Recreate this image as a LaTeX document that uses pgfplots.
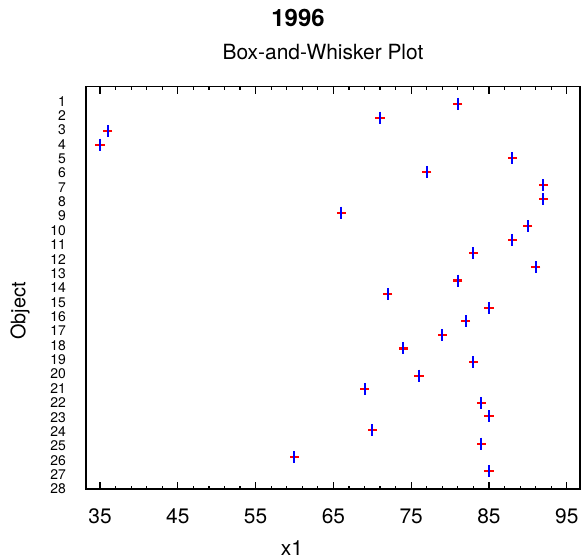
\documentclass[border=0pt]{standalone}
\usepackage{fontspec}
\setmainfont{TeX Gyre Heros}
\usepackage{pgfplots}
\usepackage{pgfplotstable}
\pgfplotsset{compat=1.18}
\pgfplotstableread{
x y
81 1.20
71 2.15
36 3.09
35 4.04
88 4.98
77 5.93
92 6.87
92 7.82
66 8.77
90 9.71
88 10.66
83 11.60
91 12.55
81 13.49
72 14.44
85 15.39
82 16.33
79 17.28
74 18.22
83 19.17
76 20.11
69 21.06
84 22.01
85 22.95
70 23.90
84 24.84
60 25.79
85 26.73
}\datatable
\begin{document}
\begin{tikzpicture}
\path[use as bounding box] (-86bp,-70bp) rectangle (495bp,489bp);
\begin{axis}[
  at={(0,0)}, anchor=south west,
  scale only axis, width=494bp, height=402.3bp,
  xmin=33.2, xmax=96.7,
  ymin=0, ymax=28, y dir=reverse,
  axis line style={line width=1.4bp, black},
  xtick={35,45,...,95},
  minor x tick num=4,
  tick align=inside,
  xtick pos=both,
  major tick length=7bp, minor tick length=3bp,
  every tick/.style={black, line width=1.2bp},
  ytick={1,...,28},
  ytick style={draw=none},
  ytick pos=left,
  /pgf/number format/assume math mode=true,
  xticklabel style={font=\fontsize{21}{21}\selectfont, anchor=base, inner sep=0pt, yshift=-34bp},
  yticklabel style={font=\fontsize{14}{14}\selectfont, anchor=east, inner sep=0pt, xshift=-20bp},
  clip=false,
]
\addplot[only marks, mark=-, mark size=4.6bp, color=red, mark options={line width=2.1bp}] table[x=x,y=y] {\datatable};
\addplot[only marks, mark=|, mark size=6bp, color=blue, mark options={line width=2bp}] table[x=x,y=y] {\datatable};
\end{axis}
\node[anchor=base, font=\fontsize{24}{24}\selectfont\bfseries] at (212bp,462.3bp) {1996};
\node[anchor=base, font=\fontsize{21}{21}\selectfont] at (237bp,429bp) {Box-and-Whisker Plot};
\node[anchor=base, font=\fontsize{21}{21}\selectfont] at (206bp,-66bp) {x1};
\node[anchor=center, rotate=90, font=\fontsize{20}{20}\selectfont] at (-66bp,178bp) {Object};
\end{tikzpicture}
\end{document}
